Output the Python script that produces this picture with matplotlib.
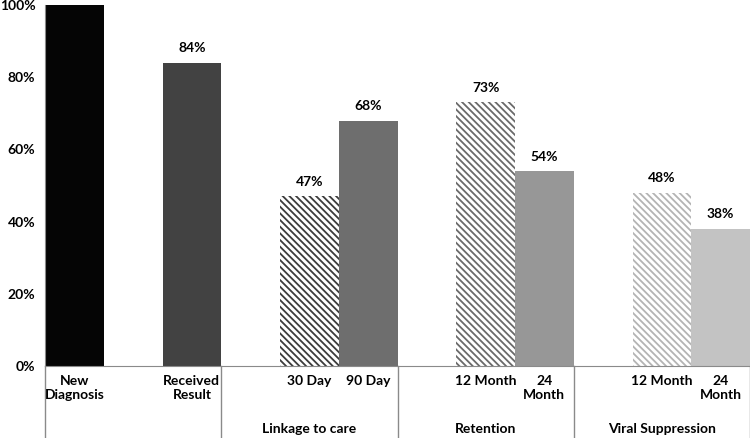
import matplotlib.pyplot as plt
import matplotlib.transforms as mtransforms

# data
labels = ['New\nDiagnosis', 'Received\nResult', '30 Day', '90 Day',
          '12 Month', '24\nMonth', '12 Month', '24\nMonth']
values = [100, 84, 47, 68, 73, 54, 48, 38]
positions = [0.5, 2.5, 4.5, 5.5, 7.5, 8.5, 10.5, 11.5]
groups = ['Linkage to care', 'Retention', 'Viral Suppression']
group_pos = [4.5, 7.5, 10.5]
separators = [0, 3, 6, 9, 12]

fills = ['#050505', '#424242', 'white', '#6e6e6e', 'white', '#979797', 'white', '#c3c3c3']
hatch_colors = [None, None, '#3c3c3c', None, '#6a6a6a', None, '#b4b4b4', None]

plt.rcParams['font.family'] = ['Lato', 'DejaVu Sans']
plt.rcParams['hatch.linewidth'] = 1.3

fig = plt.figure(figsize=(7.5, 4.38), dpi=100)
ax = fig.add_axes([0.06, 0.1644, 0.94, 0.8242])

for x, v, fc, hc in zip(positions, values, fills, hatch_colors):
    if hc is None:
        ax.bar(x, v, width=1.0, color=fc, linewidth=0)
    else:
        ax.bar(x, v, width=1.0, facecolor='white', edgecolor=hc,
               hatch='\\\\\\\\\\', linewidth=0)
    ax.annotate(f'{v}%', (x, v), xytext=(0, 6), textcoords='offset points',
                ha='center', va='bottom', fontsize=10, fontweight='bold')

ax.set_xlim(0, 12)
ax.set_ylim(0, 100)
ax.set_yticks(range(0, 101, 20))
ax.set_yticklabels([f'{t}%' for t in range(0, 101, 20)], fontsize=10, fontweight='bold')
ax.tick_params(axis='y', length=0, pad=7)
ax.set_xticks([])

for s in ['top', 'right']:
    ax.spines[s].set_visible(False)
ax.spines['left'].set_color('#8a8a8a')
ax.spines['bottom'].set_color('#8a8a8a')

# category axis below the plot
trans = mtransforms.blended_transform_factory(ax.transData, ax.transAxes)
bottom = -0.1644 / 0.8242
for s in separators:
    ax.plot([s, s], [0, bottom], transform=trans, color='#8a8a8a',
            linewidth=1, clip_on=False)

for x, lab in zip(positions, labels):
    ax.text(x, -0.025, lab, transform=trans, ha='center', va='top',
            multialignment='center', fontsize=10, fontweight='bold',
            linespacing=1.15)

for x, g in zip(group_pos, groups):
    ax.text(x, -0.175, g, transform=trans, ha='center', va='center',
            fontsize=10, fontweight='bold')

plt.savefig('out.png', dpi=100)
plt.close()
